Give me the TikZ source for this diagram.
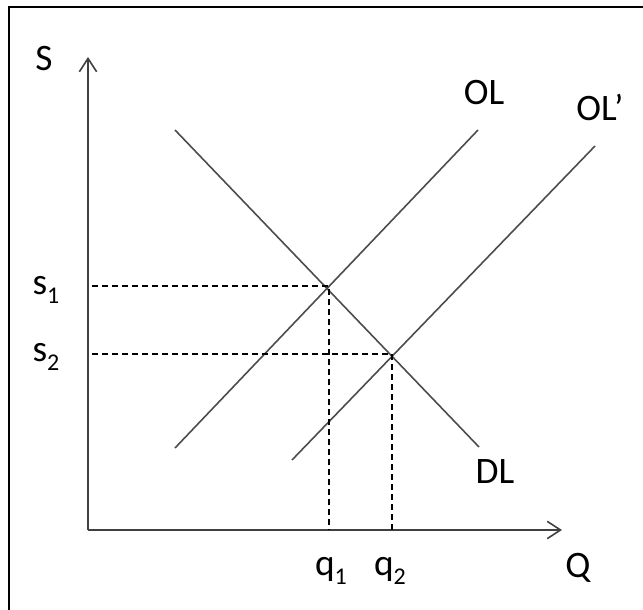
\documentclass[tikz,border=0pt]{standalone}
\usepackage{fontspec}
\setmainfont{Carlito}
\usetikzlibrary{arrows.meta}
\tikzset{
  axis/.style={draw=black!75, line width=1.2pt, -{Straight Barb[length=10pt,width=13pt]}},
  curve/.style={draw=black!70, line width=1.2pt},
  guide/.style={draw=black, line width=0.85pt, dash pattern=on 4.5pt off 3pt},
  lbl/.style={font=\fontsize{28}{32}\selectfont, inner sep=0pt}
}
\newcommand{\subidx}[2]{#1\raisebox{-0.22em}{\fontsize{18}{18}\selectfont #2}}
\begin{document}
\begin{tikzpicture}[x=0.75pt,y=-0.75pt]
  \useasboundingbox (0,0) rectangle (643,610);
  \draw[line width=1.8pt] (9,610) -- (9,7) -- (643,7);

  \coordinate (O) at (88,530);
  \coordinate (Stop) at (88,57);
  \coordinate (Qend) at (562,530);
  \draw[axis] (O) -- (Stop);
  \draw[axis] (O) -- (Qend);

  \coordinate (DLa) at (175,130);
  \coordinate (DLb) at (479,447);
  \coordinate (OLa) at (175,448);
  \coordinate (OLb) at (478,130);
  \coordinate (OPa) at (292,460);
  \coordinate (OPb) at (595,146);
  \draw[curve] (DLa) -- (DLb);
  \draw[curve] (OLa) -- (OLb);
  \draw[curve] (OPa) -- (OPb);

  \coordinate (E1) at (329,286);
  \coordinate (E2) at (392,354);
  \coordinate (S1) at (92,286);
  \coordinate (S2) at (92,354);
  \coordinate (Q1) at (329,530);
  \coordinate (Q2) at (392,530);
  \draw[guide] (S1) -- (E1) -- (Q1);
  \draw[guide] (S2) -- (E2) -- (Q2);

  \node[lbl] (sLbl) at (44,59) {S};
  \node[lbl] (qLbl) at (578,568) {Q};
  \node[lbl] (s1Lbl) at (46,290) {\subidx{s}{1}};
  \node[lbl] (s2Lbl) at (46,357) {\subidx{s}{2}};
  \node[lbl] (q1Lbl) at (331,571) {\subidx{q}{1}};
  \node[lbl] (q2Lbl) at (390,571) {\subidx{q}{2}};
  \node[lbl] (olLbl) at (484,93) {OL};
  \node[lbl] (opLbl) at (600,107) {OL’};
  \node[lbl] (dlLbl) at (495,472) {DL};
\end{tikzpicture}
\end{document}
